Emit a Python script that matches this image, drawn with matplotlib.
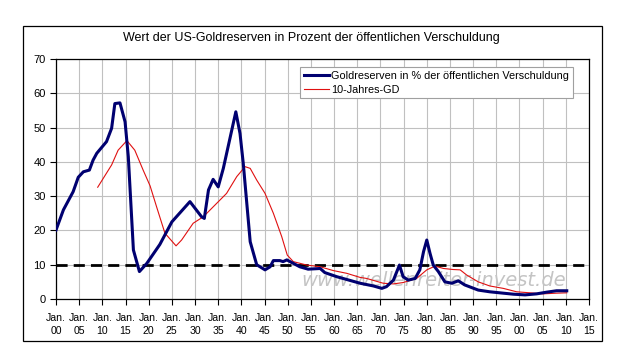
import matplotlib
matplotlib.use("Agg")
from matplotlib import pyplot as plt
from matplotlib.patches import Rectangle
import numpy as np

plt.rcParams['font.family'] = ['Liberation Sans', 'DejaVu Sans']

# --- data (decimal years, percent) ---
gold_years = [1900.0, 1901.6, 1903.7, 1904.8, 1905.9, 1907.2, 1908.0, 1908.8, 1910.9, 1912.0,
              1912.7, 1913.8, 1914.9, 1915.6, 1916.7, 1918.0, 1919.6, 1922.4, 1925.0, 1928.9,
              1931.4, 1932.0, 1932.9, 1933.9, 1935.0, 1936.1, 1938.8, 1939.7, 1940.4, 1941.9,
              1943.3, 1945.1, 1946.2, 1946.9, 1948.3, 1949.0, 1949.8, 1951.2, 1952.6, 1954.4,
              1957.0, 1958.0, 1960.6, 1962.7, 1965.6, 1968.5, 1970.3, 1971.3, 1972.8, 1974.1,
              1974.9, 1976.0, 1977.5, 1978.5, 1979.3, 1980.0, 1980.7, 1981.4, 1982.5, 1983.9,
              1985.4, 1986.8, 1988.2, 1991.1, 1993.6, 1996.5, 1998.7, 2001.2, 2003.7, 2005.9,
              2008.0, 2010.2]
gold_pct = [20.1, 26.0, 31.3, 35.5, 37.1, 37.6, 40.5, 42.5, 45.9, 49.8,
            57.0, 57.2, 51.7, 41.5, 14.3, 8.0, 10.4, 15.9, 22.5, 28.4,
            24.0, 23.5, 31.8, 34.9, 32.7, 38.1, 54.6, 48.3, 39.6, 16.7,
            10.0, 8.5, 9.4, 11.2, 11.2, 10.9, 11.4, 10.4, 9.4, 8.7,
            8.9, 7.7, 6.5, 5.7, 4.6, 3.8, 3.1, 3.6, 5.5, 9.9,
            6.5, 5.5, 6.0, 8.5, 13.8, 17.2, 13.3, 9.9, 8.0, 5.0,
            4.6, 5.3, 4.1, 2.6, 2.1, 1.7, 1.4, 1.2, 1.5, 2.0,
            2.4, 2.4]

avg_years = [1909.0, 1910.2, 1912.0, 1913.4, 1915.3, 1917.0, 1918.8, 1920.3, 1921.7, 1923.5,
             1925.9, 1927.1, 1929.6, 1931.8, 1934.3, 1936.8, 1939.0, 1940.8, 1941.9, 1943.3,
             1945.1, 1946.9, 1948.7, 1949.9, 1951.2, 1954.1, 1957.0, 1959.8, 1962.7, 1965.6,
             1967.0, 1970.6, 1972.8, 1974.9, 1977.8, 1980.0, 1981.8, 1983.6, 1985.7, 1987.2,
             1988.6, 1991.1, 1993.6, 1996.5, 1999.4, 2002.3, 2005.1, 2008.0, 2010.2]
avg_pct = [32.6, 35.2, 39.1, 43.4, 46.2, 43.4, 37.6, 33.0, 26.9, 19.2,
           15.5, 17.2, 22.1, 24.0, 27.4, 30.8, 35.7, 38.6, 38.1, 34.7,
           30.8, 25.0, 18.2, 12.8, 10.9, 9.9, 9.4, 8.3, 7.5, 6.3,
           6.0, 4.6, 4.4, 4.8, 6.0, 8.5, 9.6, 8.9, 8.6, 8.5,
           7.0, 5.0, 3.8, 3.1, 2.1, 1.8, 1.5, 1.7, 1.8]

threshold = 10
tick_years = list(range(1900, 2016, 5))
tick_labels = [f"Jan.\n{y % 100:02d}" for y in tick_years]

W, H = 624, 362
fig = plt.figure(figsize=(W / 100, H / 100), dpi=100)

# outer chart frame
fig.patches.append(Rectangle((23 / W, 1 - 341 / H), 579 / W, 315 / H, transform=fig.transFigure,
                             fill=False, edgecolor='black', linewidth=0.9))

ax = fig.add_axes([56 / W, 1 - 299 / H, 533 / W, 240 / H])

ax.plot(avg_years, avg_pct, color='#e01010', linewidth=0.8, label='10-Jahres-GD', zorder=3)
ax.plot(gold_years, gold_pct, color='#000070', linewidth=2.2,
        label='Goldreserven in % der öffentlichen Verschuldung', zorder=4)
ax.axhline(threshold, color='black', linewidth=2.0, dashes=(4, 2.2), zorder=2)

# watermark
ax.text(1981.5, 5.3, 'www.wellenreiter-invest.de', fontsize=14, style='italic', color='#c4c4c4',
        family='DejaVu Sans', ha='center', va='center', zorder=1)

ax.set_xlim(1900, 2015)
ax.set_ylim(0, 70)
ax.set_xticks(tick_years)
ax.set_xticklabels(tick_labels, fontsize=7.6, linespacing=1.45)
ax.set_yticks(range(0, 71, 10))
ax.tick_params(axis='both', direction='out', length=4, width=0.8, labelsize=8, color='black')
ax.tick_params(axis='x', pad=6, labelsize=7.6)
ax.grid(True, color='#c0c0c0', linewidth=0.8)
ax.set_axisbelow(True)
for s in ax.spines.values():
    s.set_linewidth(0.9)

handles, labels = ax.get_legend_handles_labels()
leg = ax.legend(handles[::-1], labels[::-1], loc='upper left', bbox_to_anchor=(244 / 533, 1 - 8 / 240),
                fontsize=7.8, frameon=True, fancybox=False, edgecolor='#a0a0a0', framealpha=1,
                handlelength=2.3, handletextpad=0.2, borderpad=0.35, labelspacing=0.35, borderaxespad=0)
leg.get_frame().set_linewidth(0.8)

fig.text(311 / W, 1 - 38 / H, 'Wert der US-Goldreserven in Prozent der öffentlichen Verschuldung',
         ha='center', va='center', fontsize=9)

fig.savefig('out.png', dpi=100)
